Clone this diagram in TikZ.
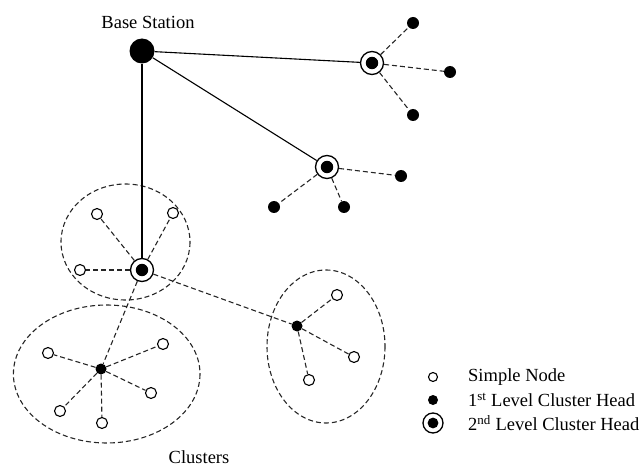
\documentclass[tikz,border=0pt]{standalone}
\usepackage{fontspec}
\setmainfont{Liberation Serif}
\begin{document}
\begin{tikzpicture}[x=1pt,y=-1pt,
  simple/.style={circle, draw, line width=1.1pt, minimum size=11pt, inner sep=0pt, fill=white},
  head/.style={circle, fill=black, minimum size=12pt, inner sep=0pt},
  headtwo/.style={circle, draw, line width=1.3pt, minimum size=#1, inner sep=0pt, fill=white,
     path picture={\fill[black] (path picture bounding box.center) circle (0.27*#1);}},
  headtwo/.default=23pt,
  bs/.style={circle, fill=black, minimum size=25pt, inner sep=0pt},
  link/.style={line width=1.1pt},
  dlink/.style={line width=1.1pt, dash pattern=on 5pt off 3pt, gray!30!black},
  cluster/.style={line width=1.1pt, dash pattern=on 5pt off 3pt, gray!30!black},
  lbl/.style={font=\fontsize{18.5}{22}\selectfont, inner sep=0pt}]
\useasboundingbox (0,0) rectangle (643,468);

% clusters
\draw[cluster] (125.5,242) ellipse [x radius=64.5, y radius=58];
\draw[cluster] (106.7,374) ellipse [x radius=93.3, y radius=69];
\draw[cluster] (326,346.5) ellipse [x radius=59, y radius=76.5];

% nodes
\node[bs] (bs) at (142,51) {};
\node[lbl] (bslbl) at (148,22) {Base Station};

\node[headtwo] (cha) at (372,63) {};
\node[head] (a1) at (413,23) {};
\node[head] (a2) at (450,72) {};
\node[head] (a3) at (413,115) {};

\node[headtwo] (chb) at (327,167) {};
\node[head] (b1) at (401,176) {};
\node[head] (b2) at (344,207) {};
\node[head] (b3) at (274,207) {};

\node[headtwo] (chc) at (142,270) {};
\node[simple] (c1) at (97,214) {};
\node[simple] (c2) at (173,213) {};
\node[simple] (c3) at (80,270) {};

\node[head, minimum size=11pt] (chd) at (101,369) {};
\node[simple] (d1) at (48,353) {};
\node[simple] (d2) at (163,344) {};
\node[simple] (d3) at (151,393) {};
\node[simple] (d4) at (60,411) {};
\node[simple] (d5) at (102,423) {};

\node[head, minimum size=11pt] (che) at (297,326) {};
\node[simple] (e1) at (337,295) {};
\node[simple] (e2) at (354,357) {};
\node[simple] (e3) at (309,380) {};

% solid links
\draw[link] (bs) -- (cha);
\draw[link] (bs) -- (chb);
\draw[link] (bs) -- (chc);

% dashed links
\foreach \n in {a1,a2,a3} \draw[dlink] (cha) -- (\n);
\foreach \n in {b1,b2,b3} \draw[dlink] (chb) -- (\n);
\foreach \n in {c1,c2,c3} \draw[dlink] (chc) -- (\n);
\foreach \n in {d1,d2,d3,d4,d5} \draw[dlink] (chd) -- (\n);
\foreach \n in {e1,e2,e3} \draw[dlink] (che) -- (\n);
\draw[dlink] (chc) -- (chd);
\draw[dlink] (chc) -- (che);

\node[lbl] (cl) at (199,457) {Clusters};

% legend
\node[simple, minimum size=9pt] (l1) at (433,377) {};
\node[head, minimum size=10pt] (l2) at (433,400) {};
\node[headtwo=20pt] (l3) at (433,423) {};
\node[lbl, anchor=west] (t1) at (468,377) {Simple Node};
\node[lbl, anchor=west] (t2) at (468,400) {1\textsuperscript{st} Level Cluster Head};
\node[lbl, anchor=west] (t3) at (468,423) {2\textsuperscript{nd} Level Cluster Head};
\end{tikzpicture}
\end{document}
